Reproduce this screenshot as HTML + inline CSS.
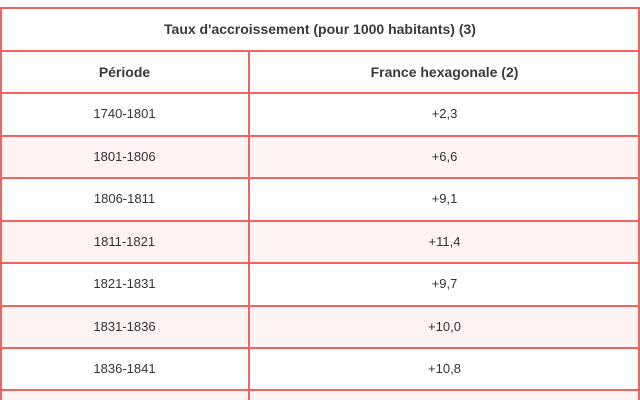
<!DOCTYPE html>
<html style="overflow:hidden;height:400px"><head><meta charset="utf-8"><style>
html,body{margin:0;width:640px;height:400px;overflow:hidden}
body{background:#fff;font-family:"Liberation Sans",sans-serif;color:#333;position:relative}
.r{position:absolute;left:0;width:640px;height:42px;border-top:2px solid #ef6460;box-sizing:border-box}
.c{position:absolute;top:-1px;height:100%;display:flex;align-items:center;justify-content:center;font-size:13px}
.a{left:0;width:249px}.b{left:249px;width:391px}
.alt{background:#fdf3f3}
.h{font-weight:bold;font-size:14px;color:#3a3a3a}
.v{position:absolute;top:50px;left:248px;width:2px;height:350px;background:#ef6460}
.l{position:absolute;top:8px;left:0;width:2px;height:392px;background:#ef6460}
.rt{position:absolute;top:8px;left:638px;width:2px;height:392px;background:#ef6460}
</style></head><body>
<div class="r" style="top:7px;height:43px"><div class="c h" style="left:0;width:640px">Taux d'accroissement (pour 1000 habitants) (3)</div></div>
<div class="r" style="top:50px;height:43px"><div class="c a h">Période</div><div class="c b h">France hexagonale (2)</div></div>
<div class="r" style="top:92px;height:43px"><div class="c a">1740-1801</div><div class="c b">+2,3</div></div>
<div class="r alt" style="top:135px;height:43px"><div class="c a">1801-1806</div><div class="c b">+6,6</div></div>
<div class="r" style="top:177px;height:43px"><div class="c a">1806-1811</div><div class="c b">+9,1</div></div>
<div class="r alt" style="top:220px;height:43px"><div class="c a">1811-1821</div><div class="c b">+11,4</div></div>
<div class="r" style="top:262px;height:43px"><div class="c a">1821-1831</div><div class="c b">+9,7</div></div>
<div class="r alt" style="top:305px;height:43px"><div class="c a">1831-1836</div><div class="c b">+10,0</div></div>
<div class="r" style="top:347px;height:43px"><div class="c a">1836-1841</div><div class="c b">+10,8</div></div>
<div class="r alt" style="top:389px;height:11px"></div>
<div class="v"></div><div class="l"></div><div class="rt"></div>
</body></html>
